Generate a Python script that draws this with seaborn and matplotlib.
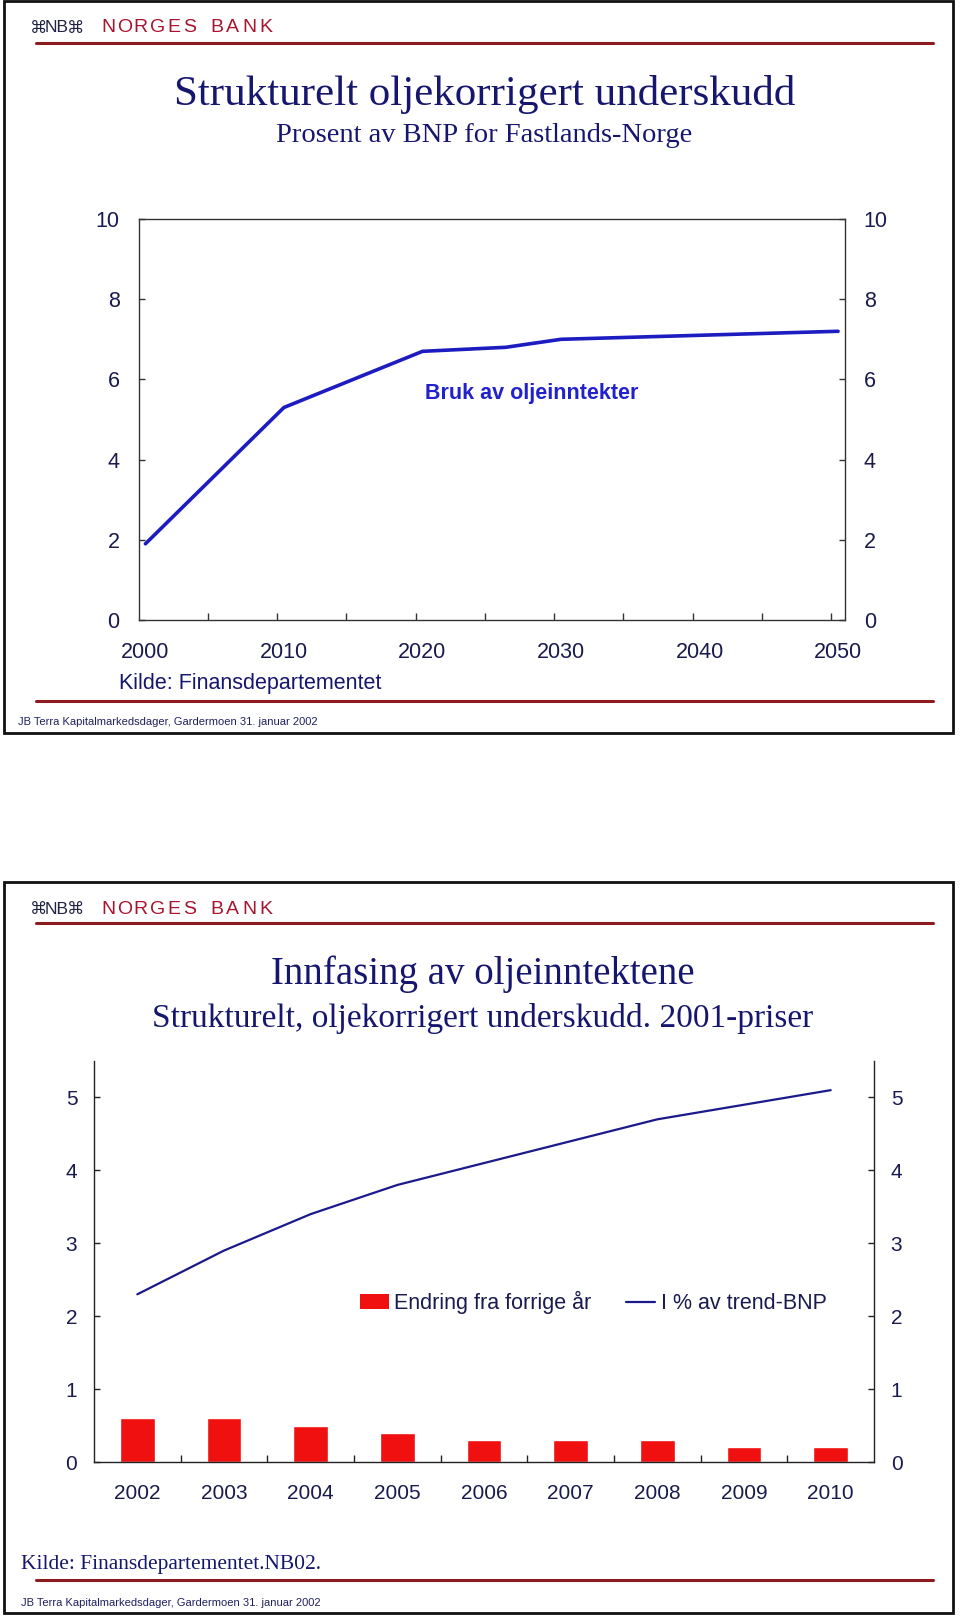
import numpy as np
import matplotlib
matplotlib.use("Agg")
import matplotlib.pyplot as plt
import seaborn as sns
from matplotlib.patches import Rectangle, Patch
from matplotlib.lines import Line2D

# ---------------- data ----------------
top_years = [2000, 2010, 2020, 2026, 2030, 2040, 2050]
top_values = [1.9, 5.3, 6.7, 6.8, 7.0, 7.1, 7.2]
top_xticks = [2000, 2010, 2020, 2030, 2040, 2050]
top_yticks = [0, 2, 4, 6, 8, 10]

bot_years = [2002, 2003, 2004, 2005, 2006, 2007, 2008, 2009, 2010]
bot_bars = [0.6, 0.6, 0.5, 0.4, 0.3, 0.3, 0.3, 0.2, 0.2]
bot_line = [2.3, 2.9, 3.4, 3.8, 4.1, 4.4, 4.7, 4.9, 5.1]
bot_yticks = [0, 1, 2, 3, 4, 5]

# ---------------- style ----------------
sns.set_style("white")
plt.rcParams["font.family"] = ["Liberation Sans", "DejaVu Sans"]
SERIF = ["Liberation Serif", "DejaVu Serif"]
SANS = ["Liberation Sans", "DejaVu Sans"]

NAVY_TXT = "#16166e"
TICK_TXT = "#1a1a4e"
MAROON = "#8e1b22"
CRIMSON = "#a8142e"
LINE_TOP = "#1c1cc0"
LINE_BOT = "#1a1a8c"
RED = "#f01010"
SPINE = "#333333"

W, H = 960, 1620
fig = plt.figure(figsize=(W / 100, H / 100), dpi=100)
fig.patch.set_facecolor("white")


def fy(py):
    return 1 - py / H


def fx(px):
    return px / W


def ax_rect(l, t, r, b):
    return [l / W, 1 - b / H, (r - l) / W, (b - t) / H]


def slide_frame(top, bottom):
    fig.add_artist(Rectangle((fx(4), fy(bottom)), fx(953) - fx(4), fy(top) - fy(bottom),
                             transform=fig.transFigure, fill=False, ec="#111111", lw=2.0))


def header(logo_y, line_y):
    fig.text(fx(30), fy(logo_y), "⌘", family=["DejaVu Sans"], fontsize=12.5, color="#222244",
             ha="left", va="center")
    fig.text(fx(45), fy(logo_y), "NB", family=SANS, fontsize=12.5, color="#222244",
             ha="left", va="center")
    fig.text(fx(67), fy(logo_y), "⌘", family=["DejaVu Sans"], fontsize=12.5, color="#222244",
             ha="left", va="center")
    step = 16.4
    x = 108.0
    for word in ["NORGES", "BANK"]:
        for ch in word:
            fig.text(fx(x), fy(logo_y), ch, family=SANS, fontsize=14, color=CRIMSON,
                     ha="center", va="center")
            x += step
        x += 10
    fig.add_artist(Line2D([fx(36), fx(933)], [fy(line_y)] * 2, transform=fig.transFigure,
                          color=MAROON, lw=2.2))


def footer(line_y, text_y, x):
    fig.add_artist(Line2D([fx(36), fx(933)], [fy(line_y)] * 2, transform=fig.transFigure,
                          color=MAROON, lw=2.2))
    fig.text(fx(x), fy(text_y), "JB Terra Kapitalmarkedsdager, Gardermoen 31. januar 2002",
             family=SANS, fontsize=8, color="#202060", ha="left", va="center")


# ================= TOP SLIDE =================
slide_frame(1, 733)
header(28, 43)
fig.text(fx(485), fy(94), "Strukturelt oljekorrigert underskudd", family=SERIF,
         fontsize=31, color=NAVY_TXT, ha="center", va="center")
fig.text(fx(484), fy(135), "Prosent av BNP for Fastlands-Norge", family=SERIF,
         fontsize=20.5, color=NAVY_TXT, ha="center", va="center")

ax1 = fig.add_axes(ax_rect(138.5, 219, 845, 620))
sns.lineplot(x=top_years, y=top_values, ax=ax1, color=LINE_TOP, lw=2.6, legend=False)
ax1.set_xlim(1999.5, 2050.5)
ax1.set_ylim(0, 10)
ax1.set_xlabel("")
ax1.set_ylabel("")
ax1.set_xticks(top_xticks)
ax1.set_xticklabels([str(v) for v in top_xticks])
ax1.set_xticks(np.arange(2004.5, 2050, 5), minor=True)
ax1.tick_params(axis="x", which="major", length=0, pad=16, labelsize=15.5, labelcolor=TICK_TXT)
ax1.tick_params(axis="x", which="minor", direction="in", length=5, width=1, color=SPINE,
                bottom=True)
ax1.set_yticks(top_yticks)
ax1.set_yticklabels([str(v) for v in top_yticks])
ax1.tick_params(axis="y", direction="in", length=4, width=1, color=SPINE, left=True, right=True,
                labelleft=True, labelright=True, pad=13.5, labelsize=15.5, labelcolor=TICK_TXT)
for s in ax1.spines.values():
    s.set_color(SPINE)
    s.set_linewidth(1.0)
ax1.text(2020.2, 5.64, "Bruk av oljeinntekter", ha="left", va="center", fontweight="bold",
         fontsize=15.5, color="#2222cc")

fig.text(fx(119), fy(683), "Kilde: Finansdepartementet", family=SANS, fontsize=15.5,
         color=NAVY_TXT, ha="left", va="center")
footer(701, 722, 18)

# ================= BOTTOM SLIDE =================
slide_frame(882, 1613)
header(909, 923)
fig.text(fx(482.5), fy(974), "Innfasing av oljeinntektene", family=SERIF,
         fontsize=28, color=NAVY_TXT, ha="center", va="center")
fig.text(fx(482.5), fy(1018), "Strukturelt, oljekorrigert underskudd. 2001-priser",
         family=SERIF, fontsize=24, color=NAVY_TXT, ha="center", va="center")

ax2 = fig.add_axes(ax_rect(94, 1061, 874, 1462))
sns.barplot(x=bot_years, y=bot_bars, color=RED, saturation=1, width=0.4, errorbar=None, ax=ax2)
sns.lineplot(x=np.arange(len(bot_years)), y=bot_line, ax=ax2, color=LINE_BOT, lw=1.6,
             legend=False)
ax2.set_xlim(-0.5, len(bot_years) - 0.5)
ax2.set_ylim(0, 5.5)
ax2.set_xlabel("")
ax2.set_ylabel("")
ax2.spines["top"].set_visible(False)
for s in ["left", "right", "bottom"]:
    ax2.spines[s].set_color("#222222")
    ax2.spines[s].set_linewidth(1.0)
ax2.set_xticks(np.arange(len(bot_years)))
ax2.set_xticklabels([str(y) for y in bot_years])
ax2.set_xticks(np.arange(0.5, len(bot_years) - 1, 1), minor=True)
ax2.tick_params(axis="x", which="major", length=0, pad=16, labelsize=15, labelcolor=TICK_TXT)
ax2.tick_params(axis="x", which="minor", direction="in", length=5, width=1, color="#222222",
                bottom=True)
ax2.set_yticks(bot_yticks)
ax2.set_yticklabels([str(v) for v in bot_yticks])
ax2.tick_params(axis="y", direction="in", length=4, width=1, color="#222222", left=True,
                right=True, labelleft=True, labelright=True, pad=12, labelsize=15,
                labelcolor=TICK_TXT)
handles = [Patch(facecolor=RED, edgecolor="none"), Line2D([], [], color=LINE_BOT, lw=1.6)]
leg = ax2.legend(handles, ["Endring fra forrige år", "I % av trend-BNP"], ncol=2,
                 loc="center left", bbox_to_anchor=(0.341, 0.397), frameon=False,
                 fontsize=15.5, handlelength=1.35, handleheight=0.7, handletextpad=0.25,
                 columnspacing=1.6, borderpad=0, borderaxespad=0)
for t in leg.get_texts():
    t.set_color(TICK_TXT)

fig.text(fx(21), fy(1564), "Kilde: Finansdepartementet.NB02.", family=SERIF, fontsize=15.5,
         color=NAVY_TXT, ha="left", va="center")
footer(1580, 1603, 21)

fig.savefig("out.png", dpi=100, facecolor="white")
